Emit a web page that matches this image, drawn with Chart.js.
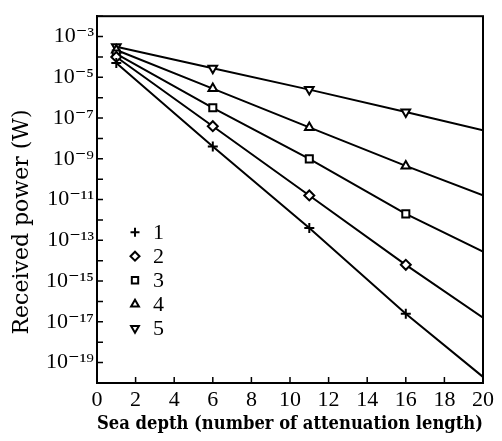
<!DOCTYPE html>
<html>
<head>
<meta charset="utf-8">
<script src="https://cdn.jsdelivr.net/npm/chart.js@4.4.1/dist/chart.umd.min.js"></script>
<style>
    html, body { margin: 0; padding: 0; background: #fff; }
    #container { width: 502px; height: 441px; }
</style>
</head>
<body>
<div id="container">
    <canvas id="PowerChart"></canvas>
</div>

<script>
    // sea depth in attenuation lengths (markers at 1, 6, 11, 16; line runs on to 20)
    var depth = [1, 6, 11, 16, 20];

    // received power (W)
    var power1 = [5.0e-5, 4.0e-9, 4.0e-13, 2.5e-17, 2.0e-20];
    var power2 = [1.0e-4, 4.0e-8, 1.6e-11, 6.3e-15, 1.6e-17];
    var power3 = [1.4e-4, 3.2e-7, 1.0e-9, 2.0e-12, 2.8e-14];
    var power4 = [2.2e-4, 2.8e-6, 3.5e-8, 4.5e-10, 1.6e-11];
    var power5 = [3.2e-4, 2.8e-5, 2.5e-6, 2.0e-7, 2.5e-8];

    var seriesNames = ['1', '2', '3', '4', '5'];

    var xTicks = [0, 2, 4, 6, 8, 10, 12, 14, 16, 18, 20];
    var yTicks = [1e-20, 1e-19, 1e-18, 1e-17, 1e-16, 1e-15, 1e-14, 1e-13, 1e-12, 1e-11,
                  1e-10, 1e-9, 1e-8, 1e-7, 1e-6, 1e-5, 1e-4, 1e-3, 1e-2];
    var yLabelValues = [1e-3, 1e-5, 1e-7, 1e-9, 1e-11, 1e-13, 1e-15, 1e-17, 1e-19];
    var yLabelTexts = ['10\u207B\u00B3', '10\u207B\u2075', '10\u207B\u2077', '10\u207B\u2079',
                       '10\u207B\u00B9\u00B9', '10\u207B\u00B9\u00B3', '10\u207B\u00B9\u2075',
                       '10\u207B\u00B9\u2077', '10\u207B\u00B9\u2079'];

    var serif = '"Liberation Serif", "DejaVu Serif", serif';
    var wideSerif = '"DejaVu Serif", serif';

    function pts(arr) {
        return depth.map(function (d, i) { return { x: d, y: arr[i] }; });
    }

    function makeSet(name, arr, style, rot) {
        return {
            label: name,
            data: pts(arr),
            borderColor: '#000',
            borderWidth: 2,
            pointStyle: style,
            rotation: rot,
            pointRadius: [5, 5, 5, 5, 0],
            pointBorderWidth: 2,
            pointBorderColor: '#000',
            pointBackgroundColor: '#fff',
            tension: 0
        };
    }

    var datasets = [
        makeSet(seriesNames[0], power1, 'cross', 0),
        makeSet(seriesNames[1], power2, 'rectRot', 0),
        makeSet(seriesNames[2], power3, 'rect', 0),
        makeSet(seriesNames[3], power4, 'triangle', 0),
        makeSet(seriesNames[4], power5, 'triangle', 180)
    ];

    // frame, inward ticks, legend, y title
    var decorations = {
        id: 'decorations',
        afterDraw: function (chart) {
            var ctx = chart.ctx;
            var a = chart.chartArea;
            var xs = chart.scales.x, ys = chart.scales.y;
            ctx.save();
            ctx.strokeStyle = '#000';
            ctx.lineWidth = 2;
            ctx.strokeRect(a.left, a.top, a.right - a.left, a.bottom - a.top);

            ctx.lineWidth = 1.5;
            ctx.beginPath();
            xTicks.forEach(function (v) {
                var px = xs.getPixelForValue(v);
                ctx.moveTo(px, a.bottom);
                ctx.lineTo(px, a.bottom - 6);
            });
            yTicks.forEach(function (v) {
                var py = ys.getPixelForValue(v);
                ctx.moveTo(a.left, py);
                ctx.lineTo(a.left + 6, py);
            });
            ctx.stroke();

            // legend
            ctx.fillStyle = '#000';
            ctx.font = '22px ' + serif;
            ctx.textBaseline = 'middle';
            ctx.textAlign = 'left';
            chart.data.datasets.forEach(function (ds, i) {
                var y = a.top + 216 + i * 24;
                ctx.fillStyle = '#fff';
                ctx.strokeStyle = '#000';
                ctx.lineWidth = 2;
                Chart.helpers.drawPoint(ctx, {
                    pointStyle: ds.pointStyle,
                    rotation: ds.rotation,
                    radius: 4.5,
                    borderWidth: 2
                }, a.left + 38, y);
                ctx.fillStyle = '#000';
                ctx.fillText(ds.label, a.left + 56, y + 1);
            });

            // y axis title
            ctx.translate(22, 222);
            ctx.rotate(-Math.PI / 2);
            ctx.textAlign = 'center';
            ctx.font = '22px ' + wideSerif;
            ctx.fillText('Received power (W)', 0, 0);
            ctx.restore();
        }
    };

    var ctxP = document.getElementById('PowerChart').getContext('2d');
    var powerChart = new Chart(ctxP, {
        type: 'line',
        data: { datasets: datasets },
        options: {
            responsive: true,
            maintainAspectRatio: false,
            animation: false,
            layout: { padding: { top: 12, right: 19, left: 0, bottom: 0 } },
            plugins: {
                legend: { display: false },
                tooltip: { enabled: false }
            },
            scales: {
                x: {
                    type: 'linear',
                    min: 0,
                    max: 20,
                    afterBuildTicks: function (scale) {
                        scale.ticks = xTicks.map(function (v) { return { value: v }; });
                    },
                    afterFit: function (scale) { scale.height = 58; },
                    grid: { drawOnChartArea: false, drawTicks: false },
                    border: { display: true, color: '#000', width: 2 },
                    ticks: {
                        color: '#000',
                        padding: 4,
                        maxRotation: 0,
                        autoSkip: false,
                        font: { family: serif, size: 22 }
                    },
                    title: {
                        display: true,
                        text: 'Sea depth (number of attenuation length)',
                        color: '#000',
                        padding: { top: 0, bottom: 6 },
                        font: { family: wideSerif, size: 19, weight: 'bold' }
                    }
                },
                y: {
                    type: 'logarithmic',
                    min: 1e-20,
                    max: 1e-2,
                    afterBuildTicks: function (scale) {
                        scale.ticks = yTicks.map(function (v) { return { value: v }; });
                    },
                    afterFit: function (scale) { scale.width = 97; },
                    grid: { drawOnChartArea: false, drawTicks: false },
                    border: { display: true, color: '#000', width: 2 },
                    ticks: {
                        color: '#000',
                        padding: 3,
                        autoSkip: false,
                        font: { family: serif, size: 22 },
                        callback: function (value) {
                            for (var i = 0; i < yLabelValues.length; i++) {
                                if (Math.abs(Math.log10(value) - Math.log10(yLabelValues[i])) < 0.01) {
                                    return yLabelTexts[i];
                                }
                            }
                            return '';
                        }
                    }
                }
            }
        },
        plugins: [decorations]
    });
</script>
</body>
</html>
